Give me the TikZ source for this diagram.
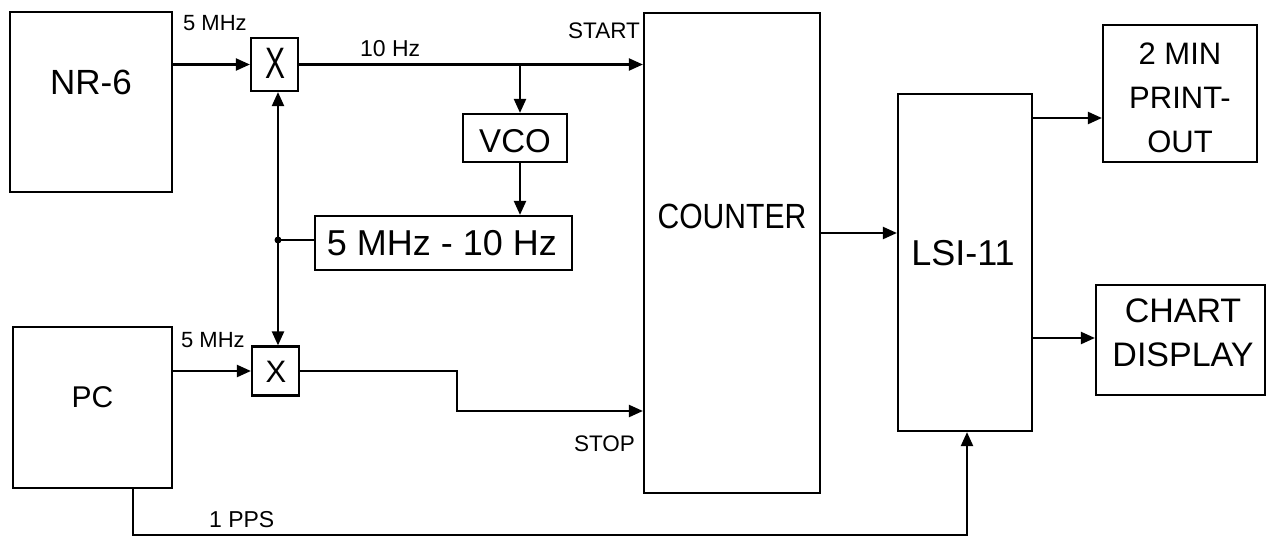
\documentclass[tikz,border=0pt]{standalone}
\usepackage{fontspec}
\setmainfont{Liberation Sans}
\usetikzlibrary{arrows.meta}
\begin{document}
\begin{tikzpicture}[x=1pt,y=-1pt, line width=2.2pt,
  box/.style={draw, rectangle, inner sep=0pt, line width=2.2pt},
  arr/.style={-{Triangle[length=14pt,width=12pt]}},
  darr/.style={{Triangle[length=14pt,width=12pt]}-{Triangle[length=14pt,width=12pt]}},
  lbl/.style={inner sep=0pt, anchor=base},
  small/.style={font=\fontsize{22}{26}\selectfont},
  mid/.style={font=\fontsize{22.5}{26}\selectfont},
  big/.style={font=\fontsize{35}{40}\selectfont},
  bigc/.style={font=\fontsize{33}{44}\selectfont, align=center, inner sep=0pt}]
\useasboundingbox (0,0) rectangle (1267,543);

% boxes
\node[box, minimum width=162pt, minimum height=180pt] (nr6) at (91,102) {};
\node[box, minimum width=159pt, minimum height=161pt] (pc) at (92.5,407.5) {};
\node[box, minimum width=47pt, minimum height=53pt] (x1) at (274.5,64.5) {};
\node[box, minimum width=47pt, minimum height=49pt] (x2) at (275.5,371) {};
\node[box, minimum width=104pt, minimum height=48pt] (vco) at (515,138) {};
\node[box, minimum width=257pt, minimum height=54pt] (mix) at (443.5,243) {};
\node[box, minimum width=176pt, minimum height=480pt] (counter) at (732,253) {};
\node[box, minimum width=134pt, minimum height=337pt] (lsi) at (965,262.5) {};
\node[box, minimum width=154pt, minimum height=137pt] (print) at (1180,93.5) {};
\node[box, minimum width=169pt, minimum height=110pt] (chart) at (1180.5,340) {};

% box texts
\node[lbl,big] (nr6t) at (91,95) {NR-6};
\node[lbl,font=\fontsize{30}{36}\selectfont] (pct) at (92.5,407) {PC};
\node[lbl] (x1t) at (275,78) {\scalebox{0.68}[1]{\fontsize{44}{50}\selectfont X}};
\node[lbl,font=\fontsize{31}{36}\selectfont] (x2t) at (276,382) {X};
\node[lbl,font=\fontsize{33}{40}\selectfont] (vcot) at (515,152) {VCO};
\node[lbl,font=\fontsize{36}{40}\selectfont] (mixt) at (442,255) {5 MHz - 10 Hz};
\node[lbl] (countert) at (732,228) {\scalebox{0.86}[1]{\fontsize{35}{40}\selectfont COUNTER}};
\node[lbl,font=\fontsize{36}{40}\selectfont] (lsit) at (963,265) {LSI-11};
\node[bigc,font=\fontsize{31}{44}\selectfont] (printt) at (1180,98) {2 MIN\\PRINT-\\OUT};
\node[bigc,font=\fontsize{34}{44}\selectfont] (chartt) at (1183,333) {CHART\\DISPLAY};

% small labels
\node[lbl,small,anchor=base west] (l5a) at (182,31) {5 MHz};
\node[lbl,small,anchor=base west] (l5b) at (180,347) {5 MHz};
\node[lbl,font=\fontsize{23}{26}\selectfont,anchor=base west] (l10) at (359,57) {10 Hz};
\node[lbl,mid,anchor=base east] (lstart) at (641,39) {START};
\node[lbl,mid,anchor=base east] (lstop) at (636,451) {STOP};
\node[lbl,font=\fontsize{23}{26}\selectfont,anchor=base west] (lpps) at (208,527) {1 PPS};

% helper coordinates
\coordinate (b1) at (520,0);
\coordinate (j) at (278,240);
\coordinate (s1) at (457,411);
\coordinate (c1) at (0,233);
\coordinate (o1) at (0,118);
\coordinate (o2) at (0,338);
\coordinate (p1) at (133,535);
\coordinate (p2) at (967,535);

% connectors
\draw[arr] (nr6.east |- x1.west) -- (x1.west);
\draw[arr] (pc.east |- x2.west) -- (x2.west);
\draw[arr] (x1.east) -- (x1.east -| counter.west);
\draw[arr] (x1.east -| b1) -- (b1 |- vco.north);
\draw[arr] (b1 |- vco.south) -- (b1 |- mix.north);
\draw[darr] (j |- x1.south) -- (j |- x2.north);
\fill (j) circle (3.5pt);
\draw (j) -- (j -| mix.west);
\draw[arr] (x2.east) -- (s1 |- x2.east) -- (s1) -- (s1 -| counter.west);
\draw[arr] (counter.east |- c1) -- (lsi.west |- c1);
\draw[arr] (lsi.east |- o1) -- (print.west |- o1);
\draw[arr] (lsi.east |- o2) -- (chart.west |- o2);
\draw[arr] (pc.south -| p1) -- (p1) -- (p2) -- (lsi.south -| p2);
\end{tikzpicture}
\end{document}
